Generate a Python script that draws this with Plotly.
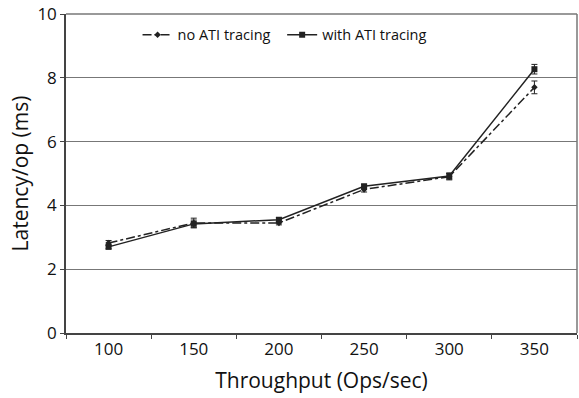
import plotly.graph_objects as go

categories = ["100", "150", "200", "250", "300", "350"]
no_ati = [2.82, 3.45, 3.45, 4.5, 4.9, 7.7]
no_ati_err = [0.08, 0.15, 0.06, 0.08, 0.1, 0.2]
with_ati = [2.7, 3.42, 3.55, 4.6, 4.92, 8.27]
with_ati_err = [0.06, 0.12, 0.06, 0.06, 0.1, 0.15]

font = "Open Sans"

fig = go.Figure()
fig.add_trace(go.Scatter(
    x=categories, y=no_ati, name="no ATI tracing", mode="lines+markers",
    line=dict(color="#222", width=1.5, dash="dashdot"),
    marker=dict(symbol="diamond", size=5, color="#222"),
    error_y=dict(type="data", array=no_ati_err, color="#222", thickness=1, width=3),
    legend="legend",
))
fig.add_trace(go.Scatter(
    x=categories, y=with_ati, name="with ATI tracing", mode="lines+markers",
    line=dict(color="#222", width=1.5),
    marker=dict(symbol="square", size=6, color="#222"),
    error_y=dict(type="data", array=with_ati_err, color="#222", thickness=1, width=3),
    legend="legend2",
))

leg_common = dict(yanchor="middle", xanchor="left", y=0.935,
                  font=dict(size=14.5), bgcolor="rgba(0,0,0,0)", itemwidth=30)

fig.update_layout(
    width=579, height=398,
    margin=dict(l=66, r=2, t=14, b=65),
    plot_bgcolor="white", paper_bgcolor="white",
    font=dict(family=font, color="#111", size=17),
    showlegend=True,
    legend=dict(x=0.14, **leg_common),
    legend2=dict(x=0.423, **leg_common),
    xaxis=dict(type="category", range=[-0.5, 5.5], tickson="boundaries",
               ticks="outside", ticklen=4, tickcolor="#444",
               showline=True, linecolor="#444", linewidth=1.5,
               showgrid=False, mirror=False,
               title=dict(text="Throughput (Ops/sec)", font=dict(size=21), standoff=14),
               tickfont=dict(size=17)),
    yaxis=dict(range=[0, 10], dtick=2, ticks="outside", ticklen=4, tickcolor="#444",
               showline=True, linecolor="#444", linewidth=1.5,
               showgrid=True, gridcolor="#777", gridwidth=1.2, zeroline=False,
               title=dict(text="Latency/op (ms)", font=dict(size=21), standoff=3),
               tickfont=dict(size=17)),
    shapes=[
        dict(type="line", xref="paper", yref="paper", x0=0, x1=1, y0=1, y1=1,
             line=dict(color="#777", width=1.5)),
        dict(type="line", xref="paper", yref="paper", x0=1, x1=1, y0=0, y1=1,
             line=dict(color="#777", width=1.5)),
    ],
)

fig.write_html("out.html")
